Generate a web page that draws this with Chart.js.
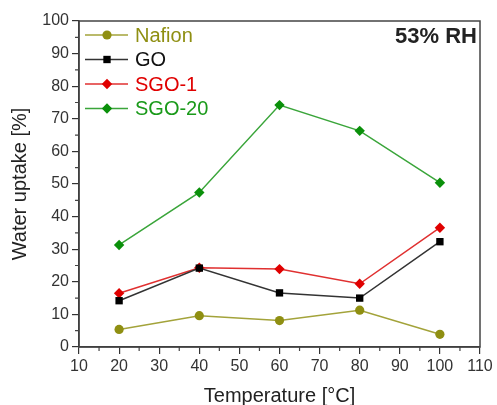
<!DOCTYPE html>
<html>
<head>
<meta charset="utf-8">
<script src="https://cdn.jsdelivr.net/npm/chart.js@4/dist/chart.umd.min.js"></script>
<style>
  html, body { margin: 0; padding: 0; background: #fff; }
  #wrap { width: 497px; height: 405px; }
</style>
</head>
<body>
<div id="wrap"><canvas id="uptakeChart" width="497" height="405"></canvas></div>
<script>
// data
const temperatures = [20, 40, 60, 80, 100];
const nafion = [5.4, 9.6, 8.1, 11.3, 3.9];
const grapheneOxide = [14.2, 24.2, 16.6, 15.0, 32.3];
const sgo1 = [16.5, 24.3, 23.9, 19.4, 36.6];
const sgo20 = [31.3, 47.4, 74.2, 66.3, 50.4];
const seriesNames = ["Nafion", "GO", "SGO-1", "SGO-20"];
const xTicks = [10, 20, 30, 40, 50, 60, 70, 80, 90, 100, 110];
const yTicks = [0, 10, 20, 30, 40, 50, 60, 70, 80, 90, 100];

const FONT = "'Liberation Sans', Arial, sans-serif";

function toPoints(values) {
  return values.map((v, i) => ({ x: temperatures[i], y: v }));
}

// frame, minor ticks, inset legend and RH label
const decorPlugin = {
  id: "decor",
  afterDraw(chart) {
    const { ctx, chartArea: a, scales } = chart;
    ctx.save();
    ctx.strokeStyle = "#444";
    ctx.lineWidth = 1.5;
    ctx.strokeRect(a.left, a.top, a.right - a.left, a.bottom - a.top);

    // minor ticks
    ctx.lineWidth = 1.2;
    ctx.beginPath();
    for (let v = 15; v < 110; v += 10) {
      const px = scales.x.getPixelForValue(v);
      ctx.moveTo(px, a.bottom);
      ctx.lineTo(px, a.bottom + 4);
    }
    for (let v = 5; v < 100; v += 10) {
      const py = scales.y.getPixelForValue(v);
      ctx.moveTo(a.left, py);
      ctx.lineTo(a.left - 4, py);
    }
    ctx.stroke();

    // legend
    chart.data.datasets.forEach((ds, i) => {
      const y = 35 + i * 24.5;
      ctx.strokeStyle = ds.borderColor;
      ctx.lineWidth = 1.5;
      ctx.beginPath();
      ctx.moveTo(85, y);
      ctx.lineTo(128, y);
      ctx.stroke();
      ctx.fillStyle = ds.pointBackgroundColor;
      const r = ds.pointRadius;
      ctx.beginPath();
      if (ds.pointStyle === "circle") {
        ctx.arc(107, y, r, 0, Math.PI * 2);
      } else if (ds.pointStyle === "rect") {
        const h = r * Math.SQRT1_2;
        ctx.rect(107 - h, y - h, h * 2, h * 2);
      } else {
        ctx.moveTo(107, y - r);
        ctx.lineTo(107 + r, y);
        ctx.lineTo(107, y + r);
        ctx.lineTo(107 - r, y);
        ctx.closePath();
      }
      ctx.fill();
      ctx.fillStyle = ds.legendColor;
      ctx.font = "20px " + FONT;
      ctx.textBaseline = "middle";
      ctx.textAlign = "left";
      ctx.fillText(ds.label, 135, y + 1);
    });

    ctx.fillStyle = "#222";
    ctx.font = "bold 22px " + FONT;
    ctx.textAlign = "right";
    ctx.textBaseline = "middle";
    ctx.fillText("53% RH", 477, 37);
    ctx.restore();
  }
};

function lineSet(label, values, lineColor, markColor, textColor, style, radius) {
  return {
    label,
    data: toPoints(values),
    borderColor: lineColor,
    backgroundColor: markColor,
    pointBackgroundColor: markColor,
    pointBorderColor: markColor,
    pointBorderWidth: 0,
    pointStyle: style,
    pointRadius: radius,
    borderWidth: 1.5,
    tension: 0,
    legendColor: textColor
  };
}

new Chart(document.getElementById("uptakeChart"), {
  type: "line",
  data: {
    datasets: [
      lineSet(seriesNames[0], nafion, "#a3a33a", "#8f8f12", "#8f8f12", "circle", 4.6),
      lineSet(seriesNames[1], grapheneOxide, "#333333", "#000000", "#111111", "rect", 5.2),
      lineSet(seriesNames[2], sgo1, "#e03030", "#e00000", "#e00000", "rectRot", 5.2),
      lineSet(seriesNames[3], sgo20, "#3aa53a", "#0a900a", "#1a9a1a", "rectRot", 5.2)
    ]
  },
  options: {
    responsive: false,
    animation: false,
    events: [],
    layout: { padding: { top: 21, right: 17, left: 0, bottom: 0 } },
    plugins: { legend: { display: false }, tooltip: { enabled: false } },
    scales: {
      x: {
        type: "linear",
        min: 10,
        max: 110,
        afterBuildTicks: s => { s.ticks = xTicks.map(v => ({ value: v })); },
        afterFit: s => { s.height = 58; },
        grid: { display: true, drawOnChartArea: false, tickLength: 7, color: "#333", lineWidth: 1.2 },
        border: { color: "#333", width: 1.5 },
        ticks: { color: "#333", padding: 3, font: { family: FONT, size: 16 } },
        title: { display: true, text: "Temperature [°C]", color: "#222", padding: { top: 0, bottom: -3 }, font: { family: FONT, size: 20 } }
      },
      y: {
        min: 0,
        max: 100,
        afterBuildTicks: s => { s.ticks = yTicks.map(v => ({ value: v })); },
        afterFit: s => { s.width = 79; },
        grid: { display: true, drawOnChartArea: false, tickLength: 7, color: "#333", lineWidth: 1.2 },
        border: { color: "#333", width: 1.5 },
        ticks: { color: "#333", padding: 3, font: { family: FONT, size: 16 } },
        title: { display: true, text: "Water uptake [%]", color: "#222", padding: { top: 8, bottom: 0 }, font: { family: FONT, size: 20 } }
      }
    }
  },
  plugins: [decorPlugin]
});
</script>
</body>
</html>
